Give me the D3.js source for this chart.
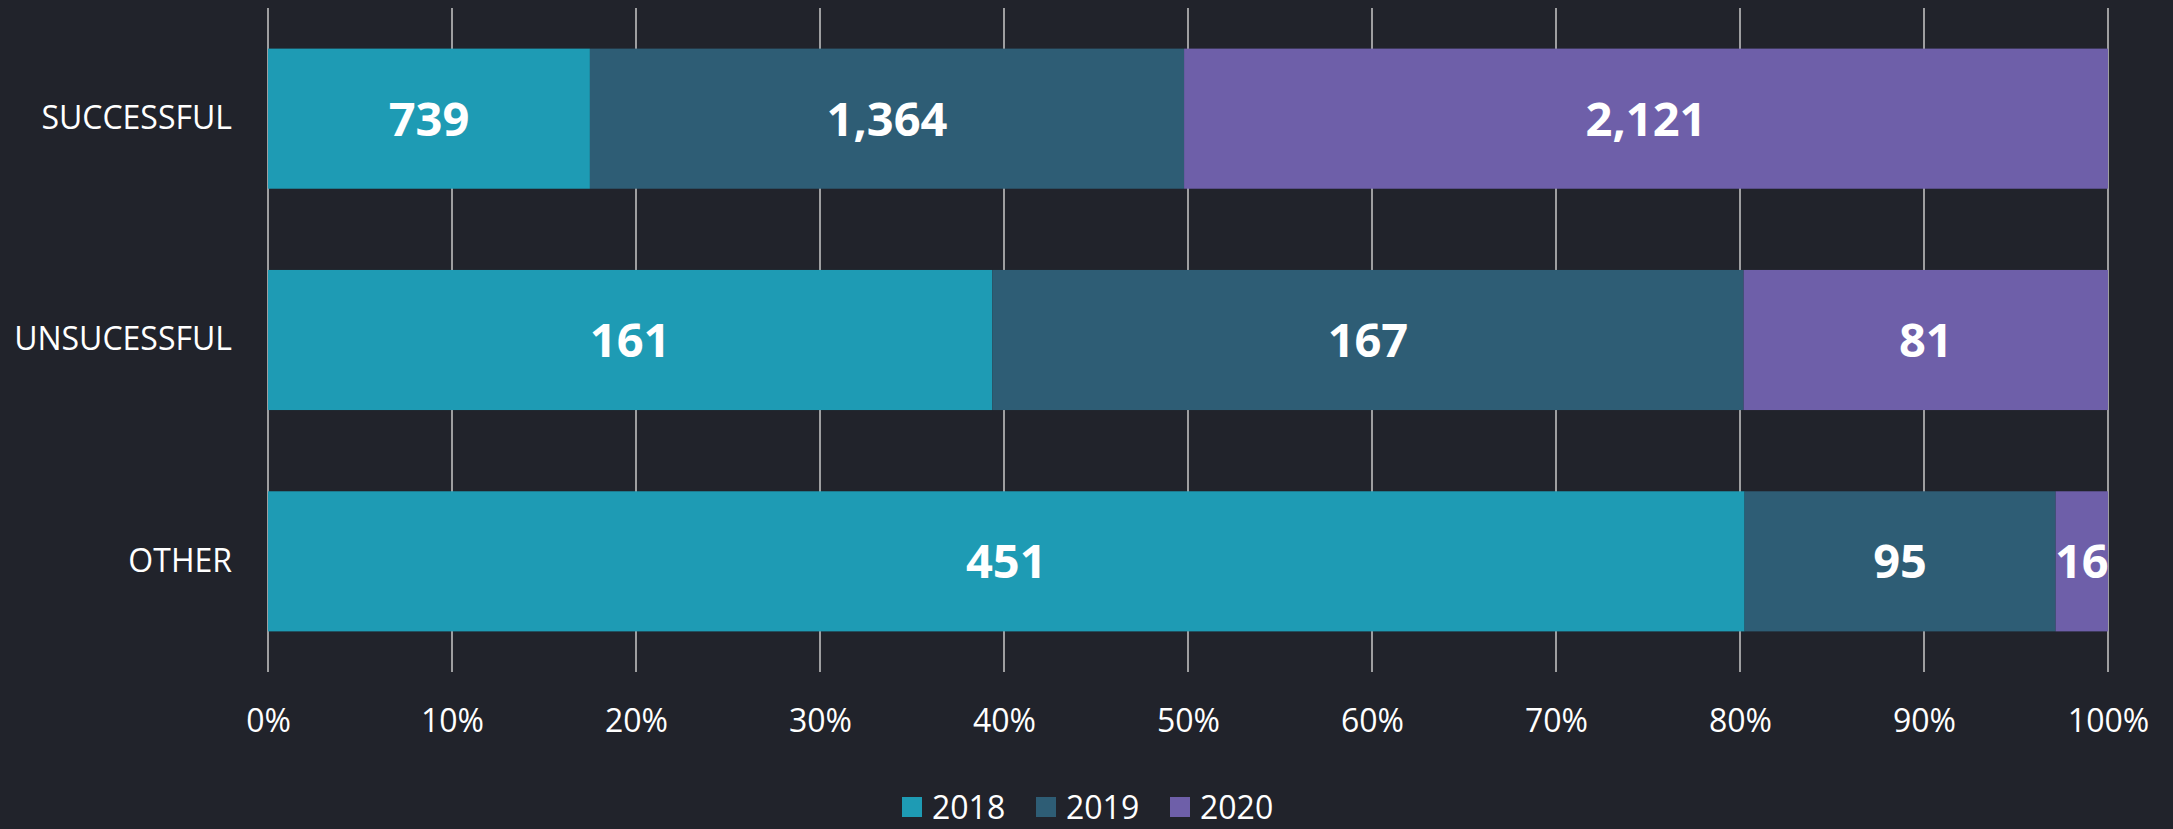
<!DOCTYPE html>
<html>
<head>
<meta charset="utf-8">
<script src="https://cdn.jsdelivr.net/npm/d3@7"></script>
<style>
  body { margin: 0; background: #21232b; }
  svg { display: block; font-family: "Open Sans", sans-serif; }
</style>
</head>
<body>
<div id="chart"></div>
<script>
const categories = ["SUCCESSFUL", "UNSUCESSFUL", "OTHER"];
const years = ["2018", "2019", "2020"];
const values2018 = [739, 161, 451];
const values2019 = [1364, 167, 95];
const values2020 = [2121, 81, 16];
const tickValues = [0, 0.1, 0.2, 0.3, 0.4, 0.5, 0.6, 0.7, 0.8, 0.9, 1];
const colors = ["#1e9bb4", "#2e5d75", "#6e5fa9"];

const width = 2173;
const height = 829;
const margin = { top: 8, right: 65, bottom: 157, left: 268 };

const svg = d3.select("#chart")
    .append("svg")
    .attr("width", width)
    .attr("height", height);

svg.append("rect")
    .attr("width", width)
    .attr("height", height)
    .attr("fill", "#21232b");

// build rows from the arrays
const rows = categories.map(function (c, i) {
    return { cat: c, "2018": values2018[i], "2019": values2019[i], "2020": values2020[i] };
});

const stack = d3.stack()
    .keys(years)
    .offset(d3.stackOffsetExpand);
const series = stack(rows);

const x = d3.scaleLinear()
    .domain([0, 1])
    .range([margin.left, width - margin.right]);

const y = d3.scaleBand()
    .domain(categories)
    .range([margin.top, height - margin.bottom])
    .paddingInner(0.367)
    .paddingOuter(0.1835);

const color = d3.scaleOrdinal()
    .domain(years)
    .range(colors);

// gridlines
svg.append("g")
    .selectAll("line")
    .data(tickValues)
    .enter()
    .append("line")
    .attr("x1", d => x(d))
    .attr("x2", d => x(d))
    .attr("y1", margin.top)
    .attr("y2", height - margin.bottom)
    .attr("stroke", "#c8c8c8")
    .attr("stroke-width", 1.5);

// bars
const layers = svg.append("g")
    .selectAll("g")
    .data(series)
    .enter()
    .append("g")
    .attr("fill", d => color(d.key));

layers.selectAll("rect")
    .data(d => d)
    .enter()
    .append("rect")
    .attr("x", d => x(d[0]))
    .attr("y", d => y(d.data.cat))
    .attr("width", d => x(d[1]) - x(d[0]))
    .attr("height", y.bandwidth());

// value labels
const fmt = d3.format(",");
series.forEach(function (s) {
    svg.append("g")
        .selectAll("text")
        .data(s)
        .enter()
        .append("text")
        .attr("x", d => (x(d[0]) + x(d[1])) / 2)
        .attr("y", d => y(d.data.cat) + y.bandwidth() / 2)
        .attr("dy", "0.36em")
        .attr("text-anchor", "middle")
        .attr("fill", "#ffffff")
        .style("font-size", "47px")
        .style("font-weight", "bold")
        .text(d => fmt(d.data[s.key]));
});

// x axis labels
const xAxis = d3.axisBottom(x)
    .tickValues(tickValues)
    .tickFormat(d3.format(".0%"))
    .tickSize(0)
    .tickPadding(0);

const gx = svg.append("g")
    .attr("transform", "translate(0," + 720 + ")")
    .call(xAxis);
gx.select(".domain").remove();
gx.selectAll("text")
    .attr("y", 0)
    .attr("dy", "0.36em")
    .attr("fill", "#ffffff")
    .style("font-size", "32px")
    .style("font-family", "'Open Sans', sans-serif");

// y axis labels
const yAxis = d3.axisLeft(y)
    .tickSize(0)
    .tickPadding(36);

const gy = svg.append("g")
    .attr("transform", "translate(" + margin.left + ",0)")
    .call(yAxis);
gy.select(".domain").remove();
gy.selectAll("text")
    .attr("fill", "#ffffff")
    .style("font-size", "32px")
    .style("font-family", "'Open Sans', sans-serif");

// legend (nudged up a little so the text is not clipped)
const legendOffsets = [902, 1036, 1170];
const legend = svg.append("g")
    .selectAll("g")
    .data(years)
    .enter()
    .append("g")
    .attr("transform", (d, i) => "translate(" + legendOffsets[i] + ",797)");

legend.append("rect")
    .attr("width", 20)
    .attr("height", 20)
    .attr("fill", d => color(d));

legend.append("text")
    .attr("x", 30)
    .attr("y", 10)
    .attr("dy", "0.36em")
    .attr("fill", "#ffffff")
    .style("font-size", "32px")
    .text(d => d);
</script>
</body>
</html>
